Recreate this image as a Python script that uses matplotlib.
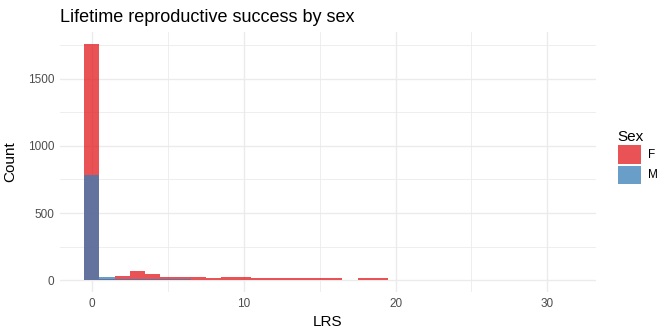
import numpy as np
import matplotlib
matplotlib.use("Agg")
import matplotlib.pyplot as plt
from matplotlib.patches import Patch

plt.rcParams['font.family'] = ['Liberation Sans', 'DejaVu Sans']

# histogram bins (binwidth 1, centred on integer LRS values)
lrs_bins = np.arange(0, 32)
female_counts = [1760, 8, 34, 70, 48, 25, 25, 25, 16, 25, 25, 13, 13, 13, 13, 13,
                 13, 0, 13, 13, 0, 0, 0, 0, 1, 0, 0, 0, 0, 0, 0, 1]
male_counts = [780, 25, 10, 8, 8, 6, 6, 0, 0, 0, 0, 0, 0, 0, 0, 0,
               0, 0, 0, 0, 0, 0, 0, 0, 0, 0, 0, 0, 0, 0, 0, 0]
sex_labels = ['F', 'M']
sex_colors = ['#E41A1C', '#377EB8']
fill_alpha = 0.75

fig = plt.figure(figsize=(6.72, 3.36), dpi=100)
ax = fig.add_axes([60/672, 44/336, 536/672, 260/336])

ax.bar(lrs_bins, female_counts, width=1.0, color=sex_colors[0], alpha=fill_alpha, linewidth=0, zorder=2)
ax.bar(lrs_bins, male_counts, width=1.0, color=sex_colors[1], alpha=fill_alpha, linewidth=0, zorder=3)

ax.set_xlim(-2.1, 33.2)
ax.set_ylim(-88, 1848)
ax.set_xticks([0, 10, 20, 30])
ax.set_xticks([5, 15, 25], minor=True)
ax.set_yticks([0, 500, 1000, 1500])
ax.set_yticks([250, 750, 1250, 1750], minor=True)
ax.grid(True, which='major', color='#EBEBEB', linewidth=1.0, zorder=0)
ax.grid(True, which='minor', color='#EBEBEB', linewidth=0.6, zorder=0)
ax.set_axisbelow(True)
for s in ax.spines.values():
    s.set_visible(False)
ax.tick_params(which='both', length=0, labelsize=8.5, labelcolor='#4D4D4D', pad=4)

ax.set_xlabel('LRS', fontsize=11, labelpad=4)
ax.set_ylabel('Count', fontsize=11, labelpad=8)
fig.text(60/672, 1 - 17/336, 'Lifetime reproductive success by sex', fontsize=13,
         ha='left', va='center')

handles = [Patch(facecolor=c, alpha=fill_alpha, edgecolor='none') for c in sex_colors]
leg = fig.legend(handles, sex_labels, title='Sex', loc='upper left',
                 bbox_to_anchor=(613/672, 1 - 125/336), frameon=False, fontsize=8.5,
                 title_fontsize=11, handlelength=2.0, handleheight=2.0,
                 labelspacing=0.15, handletextpad=0.6, borderaxespad=0)
leg._legend_box.align = 'left'

fig.savefig('out.png', dpi=100)
